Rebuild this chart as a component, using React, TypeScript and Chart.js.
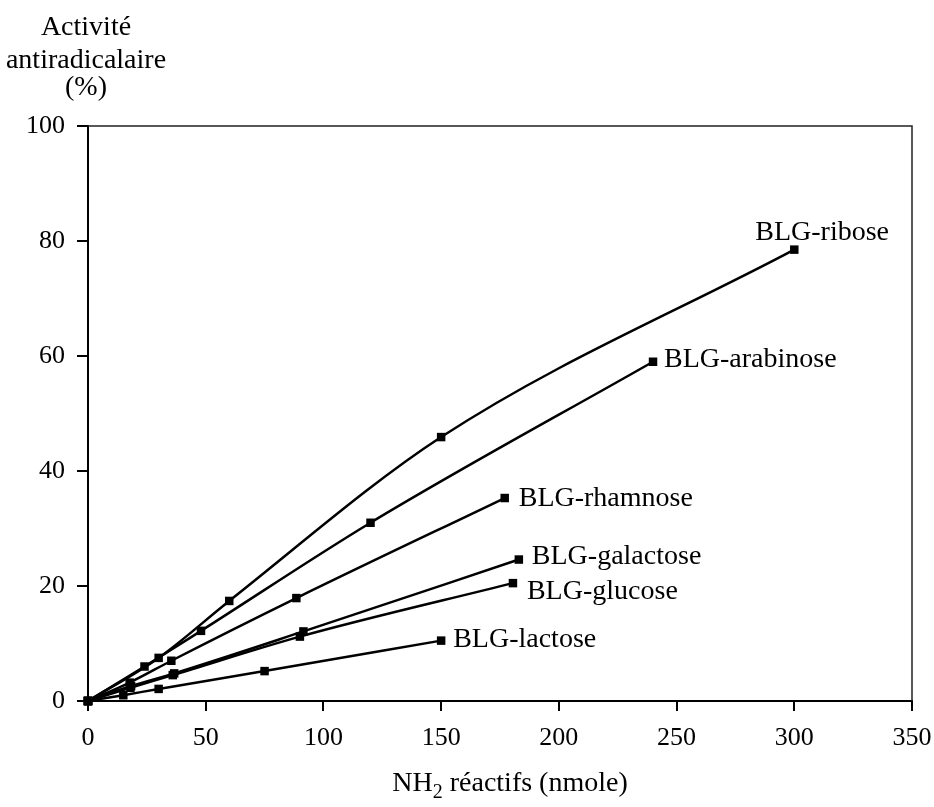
import React, { useEffect, useRef } from "react";
import { Chart, registerables } from "chart.js";

Chart.register(...registerables);

// ---- data ----
const SERIES_NAMES = [
  "BLG-ribose",
  "BLG-arabinose",
  "BLG-rhamnose",
  "BLG-galactose",
  "BLG-glucose",
  "BLG-lactose",
];

const X_RIBOSE = [0, 30, 60, 150, 300];
const Y_RIBOSE = [0, 7.5, 17.4, 45.9, 78.5];

const X_ARABINOSE = [0, 24, 48, 120, 240];
const Y_ARABINOSE = [0, 6.0, 12.2, 31.0, 59.0];

const X_RHAMNOSE = [0, 17.7, 35.4, 88.5, 177];
const Y_RHAMNOSE = [0, 3.2, 7.0, 17.9, 35.3];

const X_GALACTOSE = [0, 18.3, 36.6, 91.5, 183];
const Y_GALACTOSE = [0, 2.6, 4.8, 12.1, 24.6];

const X_GLUCOSE = [0, 18, 36, 90, 180.5];
const Y_GLUCOSE = [0, 2.3, 4.5, 11.2, 20.5];

const X_LACTOSE = [0, 15, 30, 75, 150];
const Y_LACTOSE = [0, 1.0, 2.1, 5.2, 10.5];

const X_SERIES = [X_RIBOSE, X_ARABINOSE, X_RHAMNOSE, X_GALACTOSE, X_GLUCOSE, X_LACTOSE];
const Y_SERIES = [Y_RIBOSE, Y_ARABINOSE, Y_RHAMNOSE, Y_GALACTOSE, Y_GLUCOSE, Y_LACTOSE];

const X_TICKS = [0, 50, 100, 150, 200, 250, 300, 350];
const Y_TICKS = [0, 20, 40, 60, 80, 100];

const Y_TITLE_LINES = ["Activité", "antiradicalaire", "(%)"];
const X_TITLE_MAIN = "NH";
const X_TITLE_SUB = "2";
const X_TITLE_REST = " réactifs (nmole)";

// ---- layout / style (not data) ----
const FONT = "'Liberation Serif', 'Times New Roman', serif";
const TICK_SIZE = 26;
const LABEL_SIZE = 28;
const TITLE_SIZE = 28;
// label offsets from the last point of each series: [dx, dy(baseline)]
const LABEL_OFFSETS: [number, number][] = [
  [-39, -10],
  [11, 5],
  [14, 8],
  [13, 4],
  [14, 16],
  [12, 6],
];

const W = 934;
const H = 807;
const PLOT_LEFT = 88;
const PLOT_RIGHT = 912;
const PLOT_TOP = 126;
const PLOT_BOTTOM = 701;

const decorPlugin = {
  id: "decor",
  afterDatasetsDraw(chart: any) {
    const ctx = chart.ctx;
    const ca = chart.chartArea;
    ctx.save();
    // frame top/right
    ctx.strokeStyle = "#222";
    ctx.lineWidth = 1.5;
    ctx.beginPath();
    ctx.moveTo(ca.left, ca.top);
    ctx.lineTo(ca.right, ca.top);
    ctx.lineTo(ca.right, ca.bottom);
    ctx.stroke();

    // series labels
    ctx.fillStyle = "#000";
    ctx.font = `${LABEL_SIZE}px ${FONT}`;
    ctx.textAlign = "left";
    ctx.textBaseline = "alphabetic";
    chart.data.datasets.forEach((ds: any, i: number) => {
      const meta = chart.getDatasetMeta(i);
      const last = meta.data[meta.data.length - 1];
      if (!last) return;
      const [dx, dy] = LABEL_OFFSETS[i];
      ctx.fillText(SERIES_NAMES[i], last.x + dx, last.y + dy);
    });

    // y title (three centred lines)
    ctx.font = `${TITLE_SIZE}px ${FONT}`;
    ctx.textAlign = "center";
    const yBaselines = [35, 68, 95];
    Y_TITLE_LINES.forEach((t, i) => ctx.fillText(t, 86, yBaselines[i]));

    // x title with subscript
    ctx.textAlign = "left";
    const base = 791;
    const subSize = 20;
    ctx.font = `${TITLE_SIZE}px ${FONT}`;
    const wMain = ctx.measureText(X_TITLE_MAIN).width;
    const wRest = ctx.measureText(X_TITLE_REST).width;
    ctx.font = `${subSize}px ${FONT}`;
    const wSub = ctx.measureText(X_TITLE_SUB).width;
    const total = wMain + wSub + wRest;
    let x = 510 - total / 2;
    ctx.font = `${TITLE_SIZE}px ${FONT}`;
    ctx.fillText(X_TITLE_MAIN, x, base);
    x += wMain;
    ctx.font = `${subSize}px ${FONT}`;
    ctx.fillText(X_TITLE_SUB, x, base + 7);
    x += wSub;
    ctx.font = `${TITLE_SIZE}px ${FONT}`;
    ctx.fillText(X_TITLE_REST, x, base);
    ctx.restore();
  },
};

export default function App() {
  const ref = useRef<HTMLCanvasElement | null>(null);

  useEffect(() => {
    if (!ref.current) return;
    const datasets = SERIES_NAMES.map((name, i) => ({
      label: name,
      data: X_SERIES[i].map((x, j) => ({ x, y: Y_SERIES[i][j] })),
      borderColor: "#000",
      backgroundColor: "#000",
      borderWidth: 2.5,
      pointStyle: "rect" as const,
      pointRadius: 6,
      pointBackgroundColor: "#000",
      pointBorderColor: "#000",
      pointBorderWidth: 0,
      tension: 0.4,
      cubicInterpolationMode: "monotone" as const,
      showLine: true,
      fill: false,
      clip: false as any,
    }));

    const chart = new Chart(ref.current, {
      type: "scatter",
      data: { datasets },
      options: {
        responsive: false,
        animation: false,
        events: [],
        layout: {
          padding: { top: PLOT_TOP, right: W - PLOT_RIGHT, left: 0, bottom: 0 },
        },
        plugins: {
          legend: { display: false },
          tooltip: { enabled: false },
          title: { display: false },
        },
        scales: {
          x: {
            type: "linear",
            min: 0,
            max: 350,
            afterBuildTicks(scale: any) {
              scale.ticks = X_TICKS.map((v) => ({ value: v }));
            },
            afterFit(scale: any) {
              scale.height = H - PLOT_BOTTOM;
              scale.paddingLeft = 0;
              scale.paddingRight = 0;
            },
            ticks: {
              color: "#000",
              font: { family: FONT, size: TICK_SIZE },
              padding: 12,
              maxRotation: 0,
            },
            grid: {
              display: true,
              drawOnChartArea: false,
              drawTicks: true,
              tickLength: 10,
              color: "#000",
              lineWidth: 2,
            },
            border: { display: true, color: "#000", width: 2 },
          },
          y: {
            type: "linear",
            min: 0,
            max: 100,
            afterBuildTicks(scale: any) {
              scale.ticks = Y_TICKS.map((v) => ({ value: v }));
            },
            afterFit(scale: any) {
              scale.width = PLOT_LEFT;
              scale.paddingTop = 0;
              scale.paddingBottom = 0;
            },
            ticks: {
              color: "#000",
              font: { family: FONT, size: TICK_SIZE },
              padding: 12,
            },
            grid: {
              display: true,
              drawOnChartArea: false,
              drawTicks: true,
              tickLength: 11,
              color: "#000",
              lineWidth: 2,
            },
            border: { display: true, color: "#000", width: 2 },
          },
        },
      },
      plugins: [decorPlugin],
    });
    return () => chart.destroy();
  }, []);

  return (
    <div style={{ position: "absolute", left: 0, top: 0, width: W, height: H, background: "#fff" }}>
      <canvas ref={ref} width={W} height={H} style={{ width: W, height: H, display: "block" }} />
    </div>
  );
}
